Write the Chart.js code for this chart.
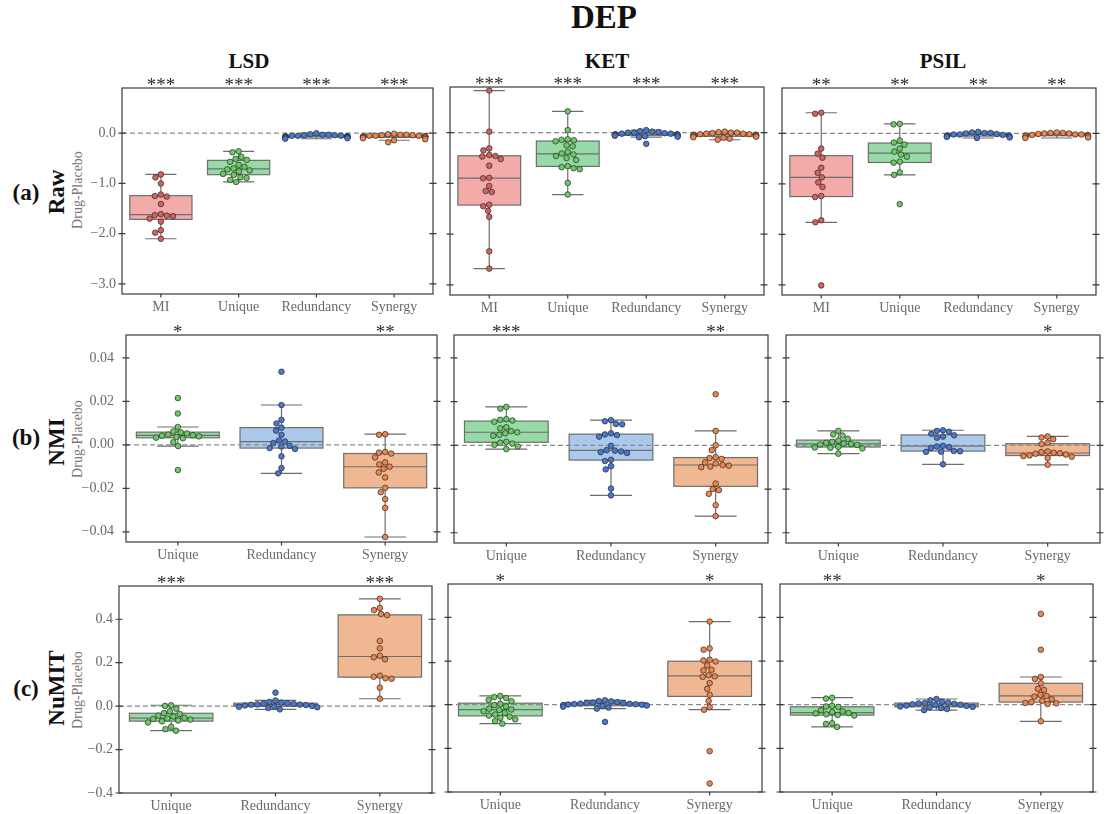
<!DOCTYPE html>
<html>
<head>
<meta charset="utf-8">
<script src="https://cdn.jsdelivr.net/npm/chart.js@4"></script>
<style>
  body { margin: 0; width: 1112px; height: 814px; background: #fff; position: relative; overflow: hidden; font-family: 'Liberation Serif', serif; }
  canvas { position: absolute; }
  .txt { position: absolute; white-space: nowrap; line-height: 1; transform: translate(-50%, -50%); }
  .rot { transform: translate(-50%, -50%) rotate(-90deg); }
</style>
</head>
<body>
<script>
const drugs = ['LSD', 'KET', 'PSIL'];
const rowNames = ['Raw', 'NMI', 'NuMIT'];
const rowTags = ['(a)', '(b)', '(c)'];
const rawLabels = ['MI', 'Unique', 'Redundancy', 'Synergy'];
const pidLabels = ['Unique', 'Redundancy', 'Synergy'];

// Drug - Placebo differences per subject, one array per category
const rawLSD = [
  [-0.82, -0.88, -1.00, -1.22, -1.25, -1.26, -1.41, -1.61, -1.63, -1.64, -1.65, -1.70, -1.76, -1.93, -1.98, -2.10],
  [-0.36, -0.38, -0.47, -0.51, -0.53, -0.57, -0.63, -0.67, -0.70, -0.72, -0.74, -0.76, -0.81, -0.83, -0.88, -0.89, -0.93, -0.97],
  [0.00, -0.02, -0.03, -0.03, -0.04, -0.04, -0.05, -0.05, -0.05, -0.06, -0.06, -0.06, -0.07, -0.07, -0.08, -0.08, -0.09, -0.10, -0.11],
  [-0.01, -0.02, -0.03, -0.03, -0.04, -0.04, -0.05, -0.05, -0.05, -0.06, -0.06, -0.06, -0.07, -0.07, -0.08, -0.09, -0.10, -0.12, -0.14, -0.18],
];
const rawKET = [
  [0.83, 0.02, -0.31, -0.35, -0.44, -0.46, -0.47, -0.52, -0.65, -0.89, -0.90, -1.05, -1.15, -1.17, -1.42, -1.45, -1.54, -1.66, -2.34, -2.68],
  [0.42, 0.05, -0.13, -0.14, -0.15, -0.17, -0.25, -0.27, -0.38, -0.41, -0.43, -0.46, -0.50, -0.54, -0.66, -0.68, -0.70, -0.72, -0.99, -1.22],
  [0.05, 0.03, 0.02, 0.01, 0.00, 0.00, -0.01, -0.02, -0.02, -0.03, -0.03, -0.04, -0.04, -0.05, -0.05, -0.06, -0.07, -0.08, -0.09, -0.22],
  [0.02, 0.01, 0.00, 0.00, -0.01, -0.02, -0.02, -0.03, -0.03, -0.04, -0.04, -0.05, -0.05, -0.06, -0.07, -0.08, -0.09, -0.10, -0.12, -0.14],
];
const rawPSIL = [
  [0.41, 0.39, -0.30, -0.40, -0.48, -0.68, -0.78, -0.87, -0.97, -1.06, -1.24, -1.26, -1.72, -1.76, -3.01],
  [0.19, 0.18, -0.14, -0.18, -0.22, -0.30, -0.36, -0.42, -0.46, -0.56, -0.58, -0.77, -0.82, -1.40],
  [0.03, 0.02, 0.01, 0.01, 0.00, -0.01, -0.02, -0.02, -0.03, -0.04, -0.04, -0.05, -0.06, -0.07, -0.08, -0.09],
  [0.02, 0.01, 0.01, 0.00, 0.00, -0.01, -0.02, -0.02, -0.03, -0.03, -0.04, -0.05, -0.06, -0.08, -0.09],
];

const nmiLSD = [
  [0.0215, 0.0144, 0.0082, 0.0062, 0.0057, 0.0052, 0.0047, 0.0044, 0.0042, 0.0039, 0.0036, 0.0033, 0.0030, 0.0012, -0.0006, -0.0116],
  [0.0336, 0.0183, 0.0115, 0.0098, 0.0079, 0.0065, 0.0046, 0.0020, 0.0015, 0.0008, -0.0004, -0.0008, -0.0015, -0.0019, -0.0053, -0.0107, -0.0131],
  [0.0049, 0.0046, -0.0033, -0.0036, -0.0040, -0.0058, -0.0081, -0.0090, -0.0101, -0.0110, -0.0127, -0.0150, -0.0198, -0.0218, -0.0250, -0.0290, -0.0424],
];
const nmiKET = [
  [0.0176, 0.0168, 0.0120, 0.0117, 0.0114, 0.0108, 0.0083, 0.0078, 0.0065, 0.0060, 0.0055, 0.0048, 0.0044, 0.0016, 0.0012, 0.0008, 0.0002, -0.0005, -0.0017],
  [0.0115, 0.0110, 0.0098, 0.0096, 0.0055, 0.0050, 0.0047, 0.0040, -0.0002, -0.0022, -0.0024, -0.0028, -0.0031, -0.0035, -0.0066, -0.0072, -0.0095, -0.0110, -0.0198, -0.0229],
  [0.0234, 0.0066, 0.0000, -0.0022, -0.0054, -0.0058, -0.0062, -0.0078, -0.0083, -0.0090, -0.0093, -0.0097, -0.0100, -0.0175, -0.0200, -0.0205, -0.0222, -0.0274, -0.0324],
];
const nmiPSIL = [
  [0.0066, 0.0050, 0.0045, 0.0030, 0.0022, 0.0016, 0.0012, 0.0008, 0.0006, 0.0004, 0.0002, -0.0007, -0.0010, -0.0011, -0.0014, -0.0038],
  [0.0069, 0.0066, 0.0062, 0.0053, 0.0046, 0.0040, 0.0035, -0.0002, -0.0005, -0.0008, -0.0012, -0.0026, -0.0027, -0.0029, -0.0030, -0.0087],
  [0.0041, 0.0036, 0.0028, 0.0012, 0.0006, -0.0028, -0.0031, -0.0034, -0.0036, -0.0038, -0.0042, -0.0046, -0.0049, -0.0052, -0.0058, -0.0089],
];

const numitLSD = [
  [0.004, 0.001, -0.012, -0.024, -0.032, -0.036, -0.044, -0.048, -0.054, -0.057, -0.059, -0.062, -0.066, -0.070, -0.075, -0.095, -0.106, -0.113],
  [0.062, 0.026, 0.019, 0.016, 0.014, 0.012, 0.010, 0.008, 0.007, 0.006, 0.005, 0.003, 0.001, -0.002, -0.003, -0.005, -0.009, -0.015],
  [0.494, 0.452, 0.442, 0.424, 0.419, 0.300, 0.266, 0.232, 0.225, 0.216, 0.140, 0.135, 0.128, 0.126, 0.085, 0.034],
];
const numitKET = [
  [0.040, 0.035, 0.030, 0.022, 0.016, 0.004, -0.002, -0.008, -0.018, -0.022, -0.024, -0.030, -0.037, -0.045, -0.050, -0.055, -0.060, -0.067, -0.075, -0.087],
  [0.020, 0.017, 0.015, 0.012, 0.010, 0.008, 0.007, 0.005, 0.004, 0.003, 0.002, 0.001, 0.000, -0.002, -0.004, -0.006, -0.009, -0.013, -0.018, -0.079],
  [0.381, 0.258, 0.252, 0.206, 0.203, 0.198, 0.180, 0.160, 0.157, 0.135, 0.130, 0.127, 0.099, 0.073, 0.045, 0.017, -0.011, -0.023, -0.213, -0.361],
];
const numitPSIL = [
  [0.032, 0.028, -0.005, -0.008, -0.010, -0.025, -0.030, -0.034, -0.038, -0.040, -0.044, -0.047, -0.050, -0.085, -0.088, -0.102],
  [0.026, 0.020, 0.014, 0.010, 0.008, 0.006, 0.004, 0.002, 0.000, -0.002, -0.004, -0.006, -0.008, -0.010, -0.012, -0.015, -0.020, -0.025],
  [0.416, 0.252, 0.127, 0.118, 0.098, 0.073, 0.068, 0.045, 0.040, 0.037, 0.025, 0.018, 0.012, 0.008, 0.006, 0.003, -0.076],
];

// significance marks per drug, per category
const rawStars = [['***', '***', '***', '***'], ['***', '***', '***', '***'], ['**', '**', '**', '**']];
const nmiStars = [['*', '', '**'], ['***', '', '**'], ['', '', '*']];
const numitStars = [['***', '', '***'], ['*', '', '*'], ['**', '', '*']];

const rawTicks = [0, -1, -2, -3];
const nmiTicks = [0.04, 0.02, 0, -0.02, -0.04];
const numitTicks = [0.4, 0.2, 0, -0.2, -0.4];

const rows = [
  { labels: rawLabels, groups: [rawLSD, rawKET, rawPSIL], stars: rawStars, ticks: rawTicks, min: -3.2, max: 0.9, digits: 1 },
  { labels: pidLabels, groups: [nmiLSD, nmiKET, nmiPSIL], stars: nmiStars, ticks: nmiTicks, min: -0.0447, max: 0.0505, digits: 2 },
  { labels: pidLabels, groups: [numitLSD, numitKET, numitPSIL], stars: numitStars, ticks: numitTicks, min: -0.4, max: 0.553, digits: 1 },
];

// plot frames: left, top, right, bottom
const frames = [
  [[122, 88, 433, 294], [450, 87, 764, 295], [782, 88, 1096, 295]],
  [[126, 335, 437, 542], [454, 335, 768, 543], [786, 335, 1100, 543]],
  [[119, 586, 432, 793], [448, 584, 762, 792], [780, 584, 1093, 792]],
];
const yLabelPad = [6, 12, 6];
const xLabelPad = [5, 5, 5];

const boxFill = { MI: '#f2aba8', Unique: '#98daa7', Redundancy: '#abc9ea', Synergy: '#efb792' };
const dotFill = { MI: '#d65f5f', Unique: '#6acc64', Redundancy: '#4878d0', Synergy: '#ee854a' };
const LINE = '#6e6e6e';
const FRAME = '#3a3a3a';
const TICK_TEXT = '#6a6a6a';
const FONT = 'Liberation Serif';
const DOT_R = 2.8;
const BOX_HALF = 0.4;

Chart.defaults.font.family = FONT;

const addText = (text, x, y, css, rotate) => {
  const d = document.createElement('div');
  d.className = rotate ? 'txt rot' : 'txt';
  d.textContent = text;
  d.style.left = x + 'px';
  d.style.top = y + 'px';
  d.style.cssText += css;
  document.body.appendChild(d);
};

addText('DEP', 604, 17, 'font-size:33px;font-weight:bold;color:#111;');
[249, 607, 943].forEach((x, c) => addText(drugs[c], x, 61, 'font-size:21px;font-weight:bold;color:#111;'));
const rowLabelY = [[192, 192, 190], [437, 442, 439], [688, 688, 690]];
rowLabelY.forEach((ys, r) => {
  addText(rowTags[r], 26, ys[0], 'font-size:23px;font-weight:bold;color:#111;');
  addText(rowNames[r], 56, ys[1], 'font-size:23px;font-weight:bold;color:#111;', true);
  addText('Drug-Placebo', 78, ys[2], 'font-size:14px;color:#777;', true);
});

const quantile = (s, p) => {
  const idx = (s.length - 1) * p;
  const lo = Math.floor(idx), hi = Math.ceil(idx);
  return s[lo] + (s[hi] - s[lo]) * (idx - lo);
};

const boxStats = (vals) => {
  const s = [...vals].sort((a, b) => a - b);
  const q1 = quantile(s, 0.25), med = quantile(s, 0.5), q3 = quantile(s, 0.75);
  const iqr = q3 - q1;
  const lo = Math.min(...s.filter(v => v >= q1 - 1.5 * iqr));
  const hi = Math.max(...s.filter(v => v <= q3 + 1.5 * iqr));
  return { q1, med, q3, lo, hi };
};

// beeswarm: place each dot as close to the centre line as it can go without overlap
const swarm = (py, d) => {
  const order = py.map((_, i) => i).sort((a, b) => py[a] - py[b]);
  const placed = [];
  const off = new Array(py.length);
  order.forEach(i => {
    const y = py[i];
    const near = placed.filter(p => Math.abs(p.y - y) < d);
    const cands = [0];
    near.forEach(p => {
      const dx = Math.sqrt(d * d - (p.y - y) ** 2);
      cands.push(p.x - dx, p.x + dx);
    });
    cands.sort((a, b) => Math.abs(a) - Math.abs(b));
    const x = cands.find(c => near.every(p => (p.x - c) ** 2 + (p.y - y) ** 2 >= d * d - 0.01));
    off[i] = x;
    placed.push({ x, y });
  });
  return off;
};

const panelPlugin = (groups, labels, stars, ticks) => ({
  id: 'panel',
  beforeDatasetsDraw(chart) {
    const { ctx, chartArea: a, scales: { x, y } } = chart;
    ctx.save();
    groups.forEach((vals, i) => {
      const s = boxStats(vals);
      const xc = x.getPixelForValue(i);
      const xl = x.getPixelForValue(i - BOX_HALF), xr = x.getPixelForValue(i + BOX_HALF);
      const cl = x.getPixelForValue(i - 0.2), cr = x.getPixelForValue(i + 0.2);
      const [pq1, pq3, pmed, plo, phi] = [s.q1, s.q3, s.med, s.lo, s.hi].map(v => y.getPixelForValue(v));
      ctx.strokeStyle = LINE;
      ctx.lineWidth = 1.2;
      ctx.beginPath();
      ctx.moveTo(xc, pq1); ctx.lineTo(xc, plo);
      ctx.moveTo(xc, pq3); ctx.lineTo(xc, phi);
      ctx.moveTo(cl, plo); ctx.lineTo(cr, plo);
      ctx.moveTo(cl, phi); ctx.lineTo(cr, phi);
      ctx.stroke();
      ctx.fillStyle = boxFill[labels[i]];
      ctx.fillRect(xl, pq3, xr - xl, pq1 - pq3);
      ctx.strokeRect(xl, pq3, xr - xl, pq1 - pq3);
      ctx.beginPath();
      ctx.moveTo(xl, pmed); ctx.lineTo(xr, pmed);
      ctx.stroke();
    });
    // zero reference
    const z = y.getPixelForValue(0);
    ctx.strokeStyle = '#8a8a8a';
    ctx.lineWidth = 1.2;
    ctx.setLineDash([5, 3]);
    ctx.beginPath();
    ctx.moveTo(a.left, z); ctx.lineTo(a.right, z);
    ctx.stroke();
    ctx.restore();
  },
  afterDraw(chart) {
    const { ctx, chartArea: a, scales: { x, y } } = chart;
    ctx.save();
    ctx.strokeStyle = FRAME;
    ctx.lineWidth = 1.2;
    ctx.strokeRect(a.left, a.top, a.right - a.left, a.bottom - a.top);
    ctx.beginPath();
    ticks.forEach(v => {
      const py = y.getPixelForValue(v);
      ctx.moveTo(a.left - 3.5, py); ctx.lineTo(a.left + 3.5, py);
      ctx.moveTo(a.right - 3.5, py); ctx.lineTo(a.right + 3.5, py);
    });
    labels.forEach((_, i) => {
      const px = x.getPixelForValue(i);
      ctx.moveTo(px, a.bottom); ctx.lineTo(px, a.bottom + 3.5);
    });
    ctx.stroke();
    ctx.fillStyle = '#2b2b2b';
    ctx.font = `19px "${FONT}"`;
    ctx.textAlign = 'center';
    ctx.textBaseline = 'alphabetic';
    stars.forEach((s, i) => ctx.fillText(s, x.getPixelForValue(i), a.top + 3));
    ctx.restore();
  },
});

const fmt = (v, digits) => {
  const t = Math.abs(v).toFixed(digits);
  return v < -1e-12 ? '\u2212' + t : t;
};

const makePanel = (r, c) => {
  const row = rows[r];
  const [fl, ft, fr, fb] = frames[r][c];
  const groups = row.groups[c];
  const yw = c === 0 ? 50 : 6;
  const padL = 2, padR = 8, padT = 24, xh = 26;
  const canvas = document.createElement('canvas');
  canvas.width = padL + yw + (fr - fl) + padR;
  canvas.height = padT + (fb - ft) + xh;
  canvas.style.left = (fl - yw - padL) + 'px';
  canvas.style.top = (ft - padT) + 'px';
  document.body.appendChild(canvas);

  const chart = new Chart(canvas, {
    type: 'scatter',
    data: {
      datasets: groups.map((vals, i) => ({
        data: vals.map(v => ({ x: i, y: v })),
        backgroundColor: dotFill[row.labels[i]],
        borderColor: '#2a2a2a',
        borderWidth: 0.7,
        pointRadius: DOT_R,
        pointHoverRadius: DOT_R,
      })),
    },
    options: {
      responsive: false,
      animation: false,
      devicePixelRatio: 1,
      events: [],
      layout: { padding: { left: padL, right: padR, top: padT, bottom: 0 } },
      plugins: { legend: { display: false }, tooltip: { enabled: false } },
      scales: {
        x: {
          type: 'linear',
          min: -0.5,
          max: row.labels.length - 0.5,
          grid: { display: false, drawTicks: false },
          border: { display: false },
          afterBuildTicks: s => { s.ticks = row.labels.map((_, i) => ({ value: i })); },
          afterFit: s => { s.height = xh; },
          ticks: {
            autoSkip: false,
            maxRotation: 0,
            padding: xLabelPad[r],
            color: TICK_TEXT,
            font: { family: FONT, size: 14 },
            callback: v => row.labels[v],
          },
        },
        y: {
          min: row.min,
          max: row.max,
          grid: { display: false, drawTicks: false },
          border: { display: false },
          afterBuildTicks: s => { s.ticks = row.ticks.map(v => ({ value: v })); },
          afterFit: s => { s.width = yw; },
          ticks: {
            display: c === 0,
            autoSkip: false,
            padding: yLabelPad[r],
            color: TICK_TEXT,
            font: { family: FONT, size: 14 },
            callback: v => fmt(v, row.digits),
          },
        },
      },
    },
    plugins: [panelPlugin(groups, row.labels, row.stars[c], row.ticks)],
  });

  // spread the dots sideways once the pixel scale is known; dots that would
  // run past the box width are pushed back to its edge
  const xs = chart.scales.x, ys = chart.scales.y;
  const unit = xs.getPixelForValue(1) - xs.getPixelForValue(0);
  const gutter = BOX_HALF * unit;
  chart.data.datasets.forEach((ds, i) => {
    const py = groups[i].map(v => ys.getPixelForValue(v));
    const off = swarm(py, 2 * DOT_R + 0.6).map(o => Math.max(-gutter, Math.min(gutter, o)));
    ds.data = groups[i].map((v, k) => ({ x: i + off[k] / unit, y: v }));
  });
  chart.update('none');
};

rows.forEach((_, r) => drugs.forEach((_, c) => makePanel(r, c)));
</script>
</body>
</html>
